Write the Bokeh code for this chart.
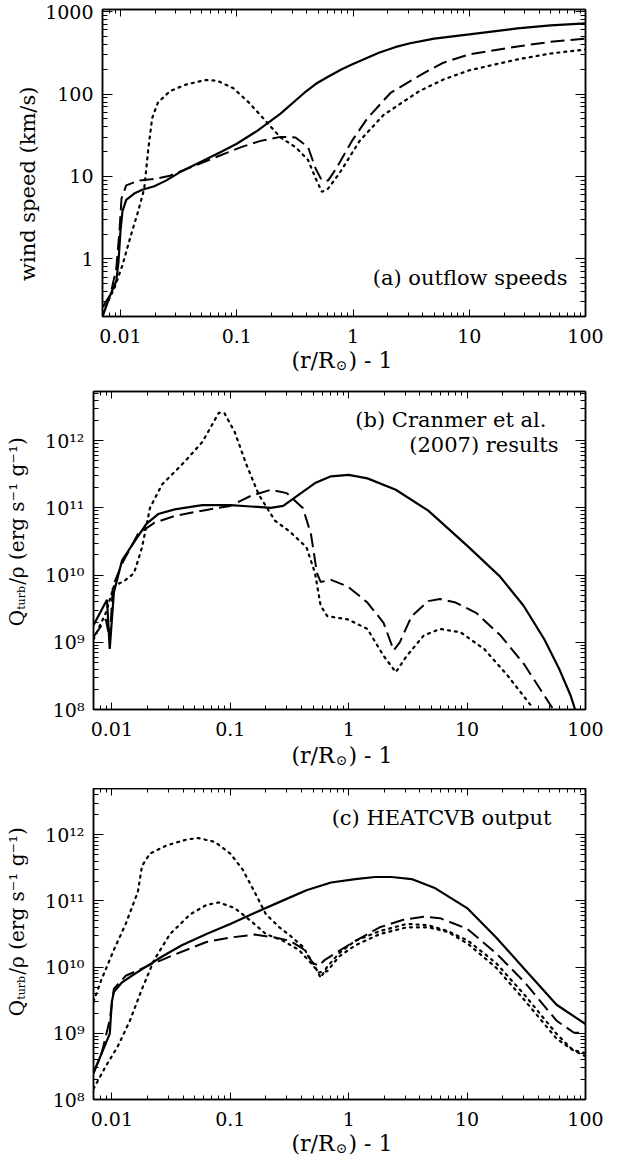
import math
from bokeh.plotting import figure
from bokeh.layouts import column, row
from bokeh.models import LogAxis, FixedTicker, Label, Range1d, CustomJSTickFormatter
from bokeh.embed import file_html
from bokeh.resources import INLINE

FONT = "DejaVu Serif"

# ---------------- data ----------------
x_ticks = [0.01, 0.1, 1, 10, 100]
y_ticks_a = [1, 10, 100, 1000]
y_ticks_q = [1e8, 1e9, 1e10, 1e11, 1e12]
y_tick_labels_q = ["10\u2078", "10\u2079", "10\u00b9\u2070", "10\u00b9\u00b9", "10\u00b9\u00b2"]

# (a) outflow speeds (km/s)
a_solid_x = [0.007, 0.0082, 0.0092, 0.0096, 0.0100, 0.0104, 0.0112, 0.0131, 0.0154, 0.0195, 0.0246, 0.0336,
             0.0498, 0.0736, 0.1, 0.149, 0.238, 0.38, 0.48, 0.61, 0.8, 1.0, 1.67, 2.3, 3.1, 5, 10, 26, 50, 100]
a_solid_y = [0.2, 0.37, 0.54, 0.91, 2.2, 3.8, 5.2, 6.2, 6.9, 7.6, 8.9, 11.6,
             15.2, 19.9, 24.9, 35.5, 57.9, 103, 133, 162, 200, 231, 316, 370, 413, 470, 530, 626, 680, 720]
a_dash_x = [0.007, 0.0082, 0.0092, 0.0098, 0.0102, 0.0112, 0.0142, 0.0195, 0.0266, 0.039, 0.0736, 0.109,
            0.16, 0.238, 0.32, 0.41, 0.48, 0.54, 0.61, 0.71, 0.98, 1.33, 2.1, 4.0, 6, 10, 26, 50, 100]
a_dash_y = [0.26, 0.37, 0.77, 2.2, 5.4, 7.8, 8.9, 9.3, 10.2, 12.7, 18.2, 22.7,
            27, 30.2, 29.7, 22.7, 12.2, 8.9, 8.9, 12.2, 27, 50.8, 103, 177, 240, 302, 377, 430, 470]
a_dot_x = [0.007, 0.0089, 0.0104, 0.0122, 0.0142, 0.016, 0.0173, 0.0187, 0.021, 0.0266, 0.0364, 0.054, 0.068,
           0.093, 0.127, 0.174, 0.238, 0.32, 0.41, 0.48, 0.54, 0.61, 0.77, 1.14, 1.83, 3.7, 6, 10, 26, 50, 100]
a_dot_y = [0.22, 0.45, 0.84, 1.87, 3.8, 7.1, 20.8, 50.8, 79, 108, 130, 148, 145,
           118, 79, 48.5, 29.7, 22.7, 15.9, 9.3, 6.5, 7.1, 11.1, 27, 55.7, 108, 150, 194, 263, 310, 347]

# (b) Cranmer et al. (2007) Q_turb/rho
b_solid_x = [0.007, 0.0091, 0.0096, 0.0104, 0.0122, 0.0154, 0.0195, 0.0246, 0.034, 0.058, 0.1, 0.149, 0.22,
             0.28, 0.38, 0.52, 0.71, 1.0, 1.44, 2.5, 4.7, 10, 19, 30, 45, 60, 75, 85]
b_solid_y = [1.8e9, 4.3e9, 8.0e8, 5.5e9, 1.66e10, 3.1e10, 5.75e10, 8.1e10, 9.5e10, 1.1e11, 1.1e11, 1.05e11, 1.0e11,
             1.07e11, 1.58e11, 2.34e11, 2.95e11, 3.1e11, 2.75e11, 1.86e11, 9.1e10, 2.75e10, 9.5e9, 3.5e9, 1.1e9,
             4.0e8, 1.6e8, 8.0e7]
b_dash_x = [0.007, 0.0089, 0.0096, 0.0102, 0.0122, 0.0166, 0.0228, 0.034, 0.058, 0.1, 0.149, 0.22, 0.3, 0.41,
            0.48, 0.54, 0.58, 0.71, 0.98, 1.44, 1.97, 2.4, 2.7, 3.4, 4.7, 5.9, 8.0, 11.9, 19.2, 30.6, 52.5]
b_dash_y = [1.2e9, 2.2e9, 1.1e9, 6.8e9, 1.48e10, 4.1e10, 6.0e10, 7.6e10, 9.1e10, 1.07e11, 1.51e11, 1.86e11,
            1.66e11, 1.0e11, 4.1e10, 1.07e10, 7.9e9, 8.5e9, 6.8e9, 3.9e9, 1.95e9, 7.6e8, 1.0e9, 2.45e9, 4.1e9,
            4.4e9, 3.9e9, 2.75e9, 1.26e9, 4.6e8, 1.05e8]
b_dot_x = [0.007, 0.0089, 0.0104, 0.0131, 0.0154, 0.018, 0.021, 0.0266, 0.039, 0.058, 0.08, 0.089, 0.109, 0.137,
           0.174, 0.238, 0.32, 0.44, 0.52, 0.58, 0.66, 0.98, 1.44, 1.97, 2.5, 3.1, 4.3, 5.9, 8.8, 14, 22, 36]
b_dot_y = [1.1e9, 2.75e9, 6.8e9, 8.5e9, 1.07e10, 2.6e10, 1.0e11, 2.24e11, 4.4e11, 9.5e11, 2.6e12, 2.6e12,
           1.35e12, 4.4e11, 1.58e11, 6.5e10, 4.4e10, 2.6e10, 1.07e10, 3.5e9, 2.45e9, 2.2e9, 1.58e9, 6.3e8, 3.6e8,
           6.3e8, 1.26e9, 1.58e9, 1.41e9, 7.9e8, 3.2e8, 1.05e8]

# (c) HEATCVB output Q_turb/rho
c_solid_x = [0.007, 0.0082, 0.0096, 0.0100, 0.0104, 0.0122, 0.0154, 0.0195, 0.0266, 0.039, 0.063, 0.1, 0.16,
             0.28, 0.44, 0.71, 1.14, 1.67, 2.3, 3.4, 5.4, 10, 17.6, 30.6, 57, 100]
c_solid_y = [2.5e8, 5.0e8, 9.8e8, 3.0e9, 4.2e9, 5.9e9, 7.8e9, 1.02e10, 1.45e10, 2.14e10, 3.16e10, 4.5e10, 6.6e10,
             1.02e11, 1.45e11, 1.9e11, 2.14e11, 2.3e11, 2.3e11, 2.14e11, 1.55e11, 7.8e10, 2.8e10, 9.3e9, 2.7e9,
             1.38e9]
c_dash_x = [0.007, 0.0082, 0.0096, 0.0104, 0.0131, 0.0195, 0.034, 0.063, 0.1, 0.16, 0.238, 0.32, 0.41, 0.5,
            0.56, 0.63, 0.77, 1.14, 1.83, 2.9, 4.3, 5.9, 10, 17.6, 30.6, 57, 80, 100]
c_dash_y = [2.5e8, 5.0e8, 1.6e9, 4.7e9, 7.4e9, 1.02e10, 1.55e10, 2.4e10, 2.8e10, 3.1e10, 2.8e10, 2.5e10, 1.9e10,
            1.15e10, 1.05e10, 1.29e10, 1.62e10, 2.5e10, 4.0e10, 5.2e10, 5.75e10, 5.5e10, 3.8e10, 1.62e10, 5.9e9,
            1.55e9, 1.02e9, 1.02e9]
c_dot1_x = [0.007, 0.0082, 0.0104, 0.0131, 0.0166, 0.018, 0.021, 0.029, 0.043, 0.054, 0.074, 0.1, 0.127, 0.16,
            0.2, 0.26, 0.32, 0.41, 0.52, 0.58, 0.66, 0.83, 1.14, 1.83, 3.1, 4.7, 6.9, 10.2, 17.6, 30.6, 57, 78, 100]
c_dot1_y = [3.0e9, 6.6e9, 1.82e10, 4.5e10, 1.38e11, 3.4e11, 5.2e11, 6.9e11, 8.5e11, 8.9e11, 7.8e11, 5.2e11,
            3.0e11, 1.38e11, 6.3e10, 4.0e10, 3.0e10, 2.04e10, 1.02e10, 6.9e9, 1.02e10, 1.62e10, 2.5e10, 3.5e10,
            4.5e10, 4.3e10, 3.5e10, 2.5e10, 1.15e10, 3.8e9, 9.8e8, 5.6e8, 5.0e8]
c_dot2_x = [0.007, 0.0089, 0.0112, 0.0142, 0.018, 0.0228, 0.031, 0.046, 0.063, 0.08, 0.109, 0.149, 0.2, 0.28,
            0.38, 0.48, 0.56, 0.66, 0.83, 1.14, 1.83, 3.1, 4.7, 6.9, 10.2, 17.6, 30.6, 57, 78, 100]
c_dot2_y = [1.45e8, 3.2e8, 6.3e8, 1.55e9, 4.7e9, 1.29e10, 3.16e10, 6.3e10, 8.7e10, 9.5e10, 7.8e10, 5.0e10,
            3.16e10, 2.5e10, 1.82e10, 1.15e10, 8.3e9, 8.7e9, 1.45e10, 2.14e10, 3.16e10, 4.0e10, 4.0e10, 3.4e10,
            2.24e10, 9.8e9, 3.16e9, 8.3e8, 5.6e8, 4.5e8]

# ---------------- layout constants ----------------
LEFT_W = 42          # width of the y-label column left of each panel
MAIN_W = 573         # main plot width (frame 492 px)
X_RANGE = (0.007, 100)


def minor_list(k0, k1):
    return [m * 10.0 ** k for k in range(k0, k1) for m in range(2, 10)]


def add_txt(p, text, x, y, size=20, align="left", baseline="middle", angle=0.0,
            x_units="screen", y_units="screen", y_offset=0):
    p.add_layout(Label(x=x, y=y, x_units=x_units, y_units=y_units, text=text, angle=angle,
                       text_font=FONT, text_font_size=f"{size}px", text_color="black",
                       text_align=align, text_baseline=baseline, y_offset=y_offset))


def helper(width, height):
    h = figure(frame_width=width, frame_height=height, x_range=Range1d(0, width), y_range=Range1d(0, height),
               x_axis_location=None, y_axis_location=None, output_backend="svg",
               toolbar_location=None, min_border_left=0, min_border_right=0, min_border_top=0,
               min_border_bottom=0, min_border=0, outline_line_color=None)
    h.grid.visible = False
    return h


def level_px(height, top, bottom, yr, level):
    """pixel height (from helper bottom) of a log10 level of the neighbouring panel's y axis"""
    lo, hi = math.log10(yr[0]), math.log10(yr[1])
    ppd = (height - top - bottom) / (hi - lo)
    return bottom + (level - lo) * ppd


def make_main(height, top, bottom, yr, ymaj, ymin, labels):
    p = figure(width=MAIN_W, height=height, x_axis_type="log", y_axis_type="log",
               x_range=Range1d(*X_RANGE), y_range=Range1d(*yr),
               output_backend="svg", toolbar_location=None,
               min_border_left=51, min_border_right=30, min_border_top=top, min_border_bottom=bottom)
    p.grid.visible = False
    p.outline_line_color = "black"
    p.outline_line_width = 1.5
    xt = FixedTicker(ticks=x_ticks, minor_ticks=minor_list(-3, 2))
    yt = FixedTicker(ticks=ymaj, minor_ticks=ymin)
    for ax in p.xaxis:
        ax.ticker = xt
        ax.formatter = CustomJSTickFormatter(code="return tick.toString();")
        ax.major_tick_in, ax.major_tick_out = 7, 0
        ax.minor_tick_in, ax.minor_tick_out = 4, 0
        ax.major_label_standoff = 12
        ax.major_label_text_font = FONT
        ax.major_label_text_font_size = "19px"
        ax.major_label_text_color = "black"
        ax.axis_line_width = 1.5
        ax.axis_line_color = "black"
        ax.major_tick_line_color = "black"
        ax.minor_tick_line_color = "black"
    for ax in p.yaxis:
        ax.ticker = yt
        ax.formatter = CustomJSTickFormatter(code="return tick.toString();")
        ax.major_label_overrides = dict(zip(ymaj, labels))
        ax.major_tick_in, ax.major_tick_out = 10, 0
        ax.minor_tick_in, ax.minor_tick_out = 5, 0
        ax.major_label_standoff = 9
        ax.major_label_text_font = FONT
        ax.major_label_text_font_size = "19px"
        ax.major_label_text_color = "black"
        ax.axis_line_width = 1.5
        ax.axis_line_color = "black"
        ax.major_tick_line_color = "black"
        ax.minor_tick_line_color = "black"
    top_ax = LogAxis(ticker=xt, major_tick_in=7, major_tick_out=0, minor_tick_in=4, minor_tick_out=0,
                     major_label_text_font_size="0px", major_label_text_color=None, major_label_standoff=0,
                     axis_line_width=1.5)
    right_ax = LogAxis(ticker=yt, major_tick_in=10, major_tick_out=0, minor_tick_in=5, minor_tick_out=0,
                       major_label_text_font_size="0px", major_label_text_color=None, major_label_standoff=0,
                       axis_line_width=1.5)
    p.add_layout(top_ax, "above")
    p.add_layout(right_ax, "right")
    return p


def add_lines(p, series):
    for xs, ys, style in series:
        if style == "solid":
            p.line(xs, ys, line_color="black", line_width=2.2)
        elif style == "dash":
            p.line(xs, ys, line_color="black", line_width=2.0, line_dash="14 6")
        else:
            p.line(xs, ys, line_color="black", line_width=2.2, line_dash="2 5", line_cap="round")


def xlabel_fig(height, yc):
    h = helper(LEFT_W + MAIN_W, height)
    cx = 340
    add_txt(h, "(r/R", cx - 6, yc, size=22, align="right", x_units="data", y_units="data")
    add_txt(h, "\u2299", cx - 5, yc - 4, size=14, align="left", x_units="data", y_units="data")
    add_txt(h, ") - 1", cx + 8, yc, size=22, align="left", x_units="data", y_units="data")
    return h


def q_left(height, top, bottom, yr):
    h = helper(LEFT_W, height)
    yc = level_px(height, top, bottom, yr, 10.77)
    y0 = yc - 100
    xc = 16
    add_txt(h, "Q", xc, y0, angle=math.pi / 2, x_units="data", y_units="data")
    add_txt(h, "turb", xc + 5, y0 + 16.5, size=11, angle=math.pi / 2, x_units="data", y_units="data")
    add_txt(h, "/\u03c1   (erg s\u207b\u00b9 g\u207b\u00b9)", xc, y0 + 41.5, angle=math.pi / 2,
            x_units="data", y_units="data")
    return h


# ---------------- panel a ----------------
A_H, A_T, A_B = 349, 9, 33
A_YR = (0.2, 1060)
pa = make_main(A_H, A_T, A_B, A_YR, y_ticks_a, minor_list(-1, 3), [str(t) for t in y_ticks_a])
add_lines(pa, [(a_solid_x, a_solid_y, "solid"), (a_dash_x, a_dash_y, "dash"), (a_dot_x, a_dot_y, "dot")])
add_txt(pa, "(a) outflow speeds", 465, 39, size=21, align="right")
la = helper(LEFT_W, A_H)
add_txt(la, "wind speed (km/s)", 27, level_px(A_H, A_T, A_B, A_YR, 1.02), size=21, align="center",
        angle=math.pi / 2, x_units="data", y_units="data")
ba = xlabel_fig(39, 28)

# ---------------- panel b ----------------
B_H, B_T, B_B = 354, 3, 33
B_YR = (1e8, 5.4e12)
pb = make_main(B_H, B_T, B_B, B_YR, y_ticks_q, minor_list(8, 13), y_tick_labels_q)
add_lines(pb, [(b_solid_x, b_solid_y, "solid"), (b_dash_x, b_dash_y, "dash"), (b_dot_x, b_dot_y, "dot")])
add_txt(pb, "(b) Cranmer et al.", 453, 290, size=21, align="right")
add_txt(pb, "(2007) results", 465, 265, size=21, align="right")
lb = q_left(B_H, B_T, B_B, B_YR)
bb = xlabel_fig(46, 33)

# ---------------- panel c ----------------
C_H, C_T, C_B = 344, 0, 33
C_YR = (1e8, 5.0e12)
pc = make_main(C_H, C_T, C_B, C_YR, y_ticks_q, minor_list(8, 13), y_tick_labels_q)
add_lines(pc, [(c_solid_x, c_solid_y, "solid"), (c_dash_x, c_dash_y, "dash"),
               (c_dot1_x, c_dot1_y, "dot"), (c_dot2_x, c_dot2_y, "dot")])
add_txt(pc, "(c) HEATCVB output", 458, 282, size=21, align="right")
lc = q_left(C_H, C_T, C_B, C_YR)
bc = xlabel_fig(23, 12)

layout = column(row(la, pa, spacing=0), ba, row(lb, pb, spacing=0), bb, row(lc, pc, spacing=0), bc, spacing=0)
open("out.html", "w").write(file_html(layout, INLINE))
